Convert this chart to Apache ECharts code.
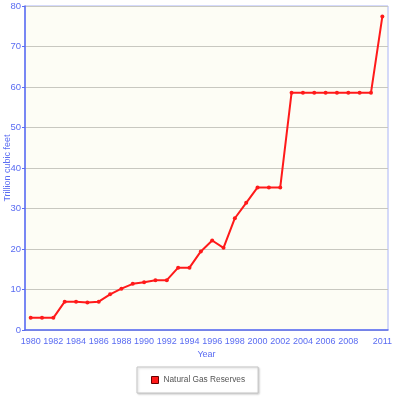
<!DOCTYPE html>
<html><head><meta charset="utf-8">
<script src="https://cdn.jsdelivr.net/npm/echarts@6/dist/echarts.min.js"></script>
<style>html,body{margin:0;padding:0;background:#fff}#c{width:397px;height:400px}</style>
</head><body><div id="c"></div>
<script>
const years = ['1980','1981','1982','1983','1984','1985','1986','1987','1988','1989','1990','1991','1992','1993','1994','1995','1996','1997','1998','1999','2000','2001','2002','2003','2004','2005','2006','2007','2008','2009','2010','2011'];
const reserves = [3.0,3.0,3.0,7.0,7.0,6.8,7.0,8.8,10.2,11.4,11.8,12.3,12.3,15.4,15.4,19.4,22.1,20.3,27.6,31.4,35.2,35.2,35.2,58.6,58.6,58.6,58.6,58.6,58.6,58.6,58.6,77.4];
const shownYears = ['1980','1982','1984','1986','1988','1990','1992','1994','1996','1998','2000','2002','2004','2006','2008','2011'];
const seriesName = 'Natural Gas Reserves';
const blue = '#5a6cf2';
const font = 'Liberation Sans';
const chart = echarts.init(document.getElementById('c'));
const isShown = (i) => shownYears.indexOf(years[i]) >= 0;
chart.setOption({
  animation: false,
  grid: {left: 25, top: 6, right: 9, bottom: 70, outerBoundsMode: 'none', containLabel: false, show: true, backgroundColor: '#fdfdf5', borderColor: '#aab4f6', borderWidth: 1},
  legend: {
    bottom: 7, left: 137, data: [seriesName], icon: 'rect', itemWidth: 7, itemHeight: 7, itemGap: 5,
    borderColor: '#c4c4c4', borderWidth: 1, padding: [9, 13, 9, 14], backgroundColor: '#fff',
    shadowBlur: 2, shadowColor: 'rgba(0,0,0,0.18)', shadowOffsetX: 1, shadowOffsetY: 1,
    textStyle: {color: '#555', fontFamily: font, fontSize: 8.3},
    itemStyle: {borderColor: '#660000', borderWidth: 1}
  },
  xAxis: {
    type: 'category', data: years, boundaryGap: true,
    name: 'Year', nameLocation: 'middle', nameGap: 20, nameMoveOverlap: false,
    nameTextStyle: {color: blue, fontFamily: font, fontSize: 9},
    axisLine: {lineStyle: {color: blue, width: 1.5}},
    axisTick: {alignWithLabel: true, length: 3, interval: isShown, lineStyle: {color: blue}},
    axisLabel: {color: blue, fontFamily: font, fontSize: 9, margin: 7, interval: isShown, hideOverlap: false},
    splitLine: {show: false}
  },
  yAxis: {
    type: 'value', min: 0, max: 80, interval: 10,
    name: 'Trillion cubic feet', nameLocation: 'middle', nameGap: 13, nameRotate: 90, nameMoveOverlap: false,
    nameTextStyle: {color: blue, fontFamily: font, fontSize: 9},
    axisLine: {show: true, lineStyle: {color: blue, width: 1.5}},
    axisTick: {show: true, length: 3, lineStyle: {color: blue}},
    axisLabel: {color: blue, fontFamily: font, fontSize: 9.5, margin: 4},
    splitLine: {lineStyle: {color: '#c8c8c0', width: 1}}
  },
  series: [{
    name: seriesName, type: 'line', data: reserves,
    symbol: 'circle', symbolSize: 4, showSymbol: true,
    lineStyle: {color: '#ff1a1a', width: 2},
    itemStyle: {color: '#ff1a1a'}
  }]
});
</script></body></html>
